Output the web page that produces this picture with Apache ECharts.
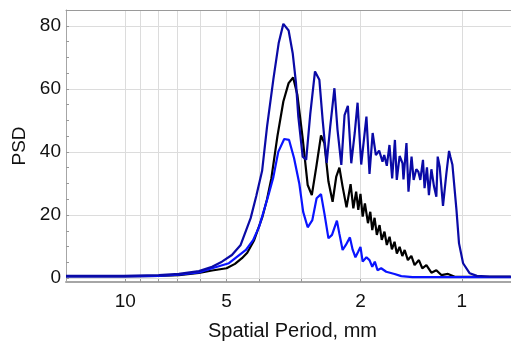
<!DOCTYPE html>
<html>
<head>
<meta charset="utf-8">
<script src="https://cdn.jsdelivr.net/npm/echarts@6/dist/echarts.min.js"></script>
<style>
html, body { margin: 0; padding: 0; background: #fff; }
#main { width: 511px; height: 341px; }
</style>
</head>
<body>
<div id="main"></div>
<script>
// navy curve
const periodNavy = [15, 10.1, 7.95, 6.93, 6.04, 5.52, 5.16, 4.82, 4.54, 4.24, 4.08, 3.92, 3.79, 3.63, 3.50, 3.39, 3.27, 3.18, 3.11, 3.06,
    2.97, 2.90, 2.82, 2.73, 2.65, 2.59, 2.52, 2.46, 2.39, 2.34, 2.28, 2.23, 2.18, 2.13, 2.08, 2.04, 1.99, 1.92, 1.88, 1.84,
    1.80, 1.76, 1.74, 1.72, 1.70, 1.67, 1.64, 1.61, 1.58, 1.56, 1.53, 1.50, 1.49, 1.46, 1.44, 1.41, 1.39, 1.365, 1.346, 1.328,
    1.304, 1.29, 1.269, 1.252, 1.231, 1.209, 1.19, 1.179, 1.163, 1.137, 1.111, 1.091, 1.081, 1.066, 1.056, 1.037, 1.019, 0.991, 0.947, 0.902,
    0.825, 0.715];
const psdNavy = [0.7, 0.7, 0.9, 1.3, 2.2, 3.6, 5.2, 7.3, 10.5, 19, 26, 34, 48, 63, 74.5, 80.6, 78.5, 71.3, 62, 51.2,
    38.5, 37.5, 52, 65.5, 62.9, 50, 36.5, 48, 60.2, 47, 35.9, 51.7, 54.6, 36.4, 46, 55.6, 36, 51.2, 33, 46,
    39, 40.4, 40.1, 36.9, 39, 35.6, 42.2, 31.6, 43.8, 31.1, 38.7, 36.4, 31.3, 42.8, 27.4, 38.5, 31.1, 34.5, 33.7, 31.1,
    37.5, 28.5, 35.1, 26.3, 34.5, 29.0, 25.8, 38.5, 35.3, 22.9, 33.2, 40.3, 38.5, 35.9, 35.9, 21.6, 11, 4.7, 1.5, 0.7,
    0.5, 0.5];

// black curve
const periodBlack = [15, 10.1, 7.95, 6.93, 6.04, 5.52, 5.0, 4.72, 4.50, 4.34, 4.14, 3.91, 3.79, 3.68, 3.53, 3.39, 3.27, 3.17, 3.08, 2.97,
    2.87, 2.79, 2.70, 2.62, 2.56, 2.49, 2.42, 2.36, 2.31, 2.26, 2.20, 2.14, 2.10, 2.06, 2.03, 2.00, 1.97, 1.94, 1.90, 1.87,
    1.845, 1.816, 1.788, 1.755, 1.729, 1.697, 1.670, 1.639, 1.613, 1.584, 1.559, 1.530, 1.502, 1.478, 1.446, 1.412, 1.381, 1.341, 1.310, 1.274,
    1.231, 1.190, 1.150, 1.099, 1.049, 0.715];
const psdBlack = [0.5, 0.5, 0.7, 0.9, 1.6, 2.4, 3.1, 4.5, 6.3, 8, 12, 19.5, 25, 31.6, 45, 56, 61.8, 63.6, 58.1, 44.3,
    29.5, 26.3, 35.9, 45.2, 42.8, 30.6, 24.2, 32.2, 35, 29, 22.4, 29.8, 22.1, 27.4, 21.6, 26.7, 19.5, 23.7, 17.4, 21.0,
    15.2, 19.1, 13.7, 16.8, 12.1, 14.7, 10.5, 13.1, 9.1, 11.5, 7.8, 9.9, 7.0, 8.9, 5.7, 7.0, 4.1, 5.7, 3.1, 4.1,
    1.7, 2.5, 0.95, 1.3, 0.4, 0.4];

// blue curve
const periodBlue = [15, 10.1, 7.95, 6.93, 6.04, 5.52, 4.92, 4.38, 4.17, 4.00, 3.87, 3.74, 3.63, 3.51, 3.37, 3.26, 3.15, 3.04, 2.96, 2.87,
    2.78, 2.70, 2.62, 2.56, 2.49, 2.43, 2.35, 2.31, 2.26, 2.21, 2.15, 2.11, 2.07, 2.03, 2.00, 1.97, 1.92, 1.88, 1.845, 1.813,
    1.78, 1.736, 1.677, 1.584, 1.513, 1.40, 0.715];
const psdBlue = [0.5, 0.5, 0.7, 1.1, 1.8, 3.1, 4.7, 8.9, 12, 16.3, 21.5, 26.9, 32, 40, 44.1, 43.8, 38, 30, 21, 16.1,
    18.4, 25.3, 26.6, 20.5, 12.6, 13.7, 18.2, 14, 8.9, 10.5, 12.9, 9, 6.6, 8.4, 9.9, 5.2, 6.6, 5.7, 3.6, 5.2,
    2.5, 3.1, 2.0, 1.3, 0.6, 0.3, 0.3];

const xLabelPeriods = [10, 5, 2, 1];
const xGridPeriods = [1, 2, 3, 4, 5, 6, 7, 8, 9, 10];
const yLabels = [0, 20, 40, 60, 80];
const yMinorTicks = [0, 5, 10, 15, 20, 25, 30, 35, 40, 45, 50, 55, 60, 65, 70, 75, 80, 85];

const FONT = 'Liberation Sans, Arial, sans-serif';
const xMin = Math.log10(0.714);
const xMax = Math.log10(15);

let toPoints = (periods, values) => periods.map((p, i) => [Math.log10(p), values[i]]);

let chart = echarts.init(document.getElementById('main'));
chart.setOption({
    animation: false,
    backgroundColor: '#fff',
    grid: { left: 66, right: 0, top: 10, bottom: 59, outerBoundsMode: 'none', containLabel: false },
    xAxis: [
        {
            type: 'value',
            position: 'bottom',
            min: xMin,
            max: xMax,
            inverse: true,
            name: 'Spatial Period, mm',
            nameLocation: 'middle',
            nameGap: 39,
            nameTextStyle: { fontSize: 20, color: '#111', fontFamily: FONT, padding: [0, 0, 0, 8] },
            axisLine: { show: true, onZero: false, lineStyle: { color: '#a6a6a6', width: 2 } },
            axisTick: {
                show: true,
                inside: true,
                length: 3,
                customValues: xGridPeriods.map(Math.log10),
                lineStyle: { color: '#999' }
            },
            axisLabel: {
                customValues: xLabelPeriods.map(Math.log10),
                formatter: v => String(Math.round(Math.pow(10, v))),
                fontSize: 19,
                color: '#111',
                fontFamily: FONT,
                margin: 10
            },
            splitLine: { show: true, lineStyle: { color: '#dcdcdc', width: 1 } }
        },
        {
            type: 'value',
            position: 'top',
            min: xMin,
            max: xMax,
            inverse: true,
            axisLine: { show: true, onZero: false, lineStyle: { color: '#9a9a9a', width: 1 } },
            axisTick: { show: false },
            axisLabel: { show: false },
            splitLine: { show: false }
        }
    ],
    yAxis: [
        {
            type: 'value',
            position: 'left',
            min: -1.25,
            max: 85,
            name: 'PSD',
            nameLocation: 'middle',
            nameGap: 37,
            nameTextStyle: { fontSize: 19, color: '#111', fontFamily: FONT },
            axisLine: { show: true, onZero: false, lineStyle: { color: '#a6a6a6', width: 1 } },
            axisTick: { show: false, customValues: yLabels },
            axisLabel: {
                customValues: yLabels,
                fontSize: 19,
                color: '#111',
                fontFamily: FONT,
                margin: 5
            },
            splitLine: { show: true, lineStyle: { color: '#dcdcdc', width: 1 } }
        },
        {
            type: 'value',
            position: 'left',
            min: -1.25,
            max: 85,
            axisLine: { show: false, onZero: false },
            axisTick: {
                show: true,
                inside: true,
                length: 3,
                customValues: yMinorTicks,
                lineStyle: { color: '#999' }
            },
            axisLabel: { show: false },
            splitLine: { show: false }
        }
    ],
    series: [
        {
            type: 'line',
            data: toPoints(periodBlack, psdBlack),
            showSymbol: false,
            lineStyle: { color: '#000000', width: 2.2 }
        },
        {
            type: 'line',
            data: toPoints(periodBlue, psdBlue),
            showSymbol: false,
            lineStyle: { color: '#0a14ff', width: 2.2 }
        },
        {
            type: 'line',
            data: toPoints(periodNavy, psdNavy),
            showSymbol: false,
            lineStyle: { color: '#0a0aa6', width: 2.2 }
        }
    ]
});
</script>
</body>
</html>
